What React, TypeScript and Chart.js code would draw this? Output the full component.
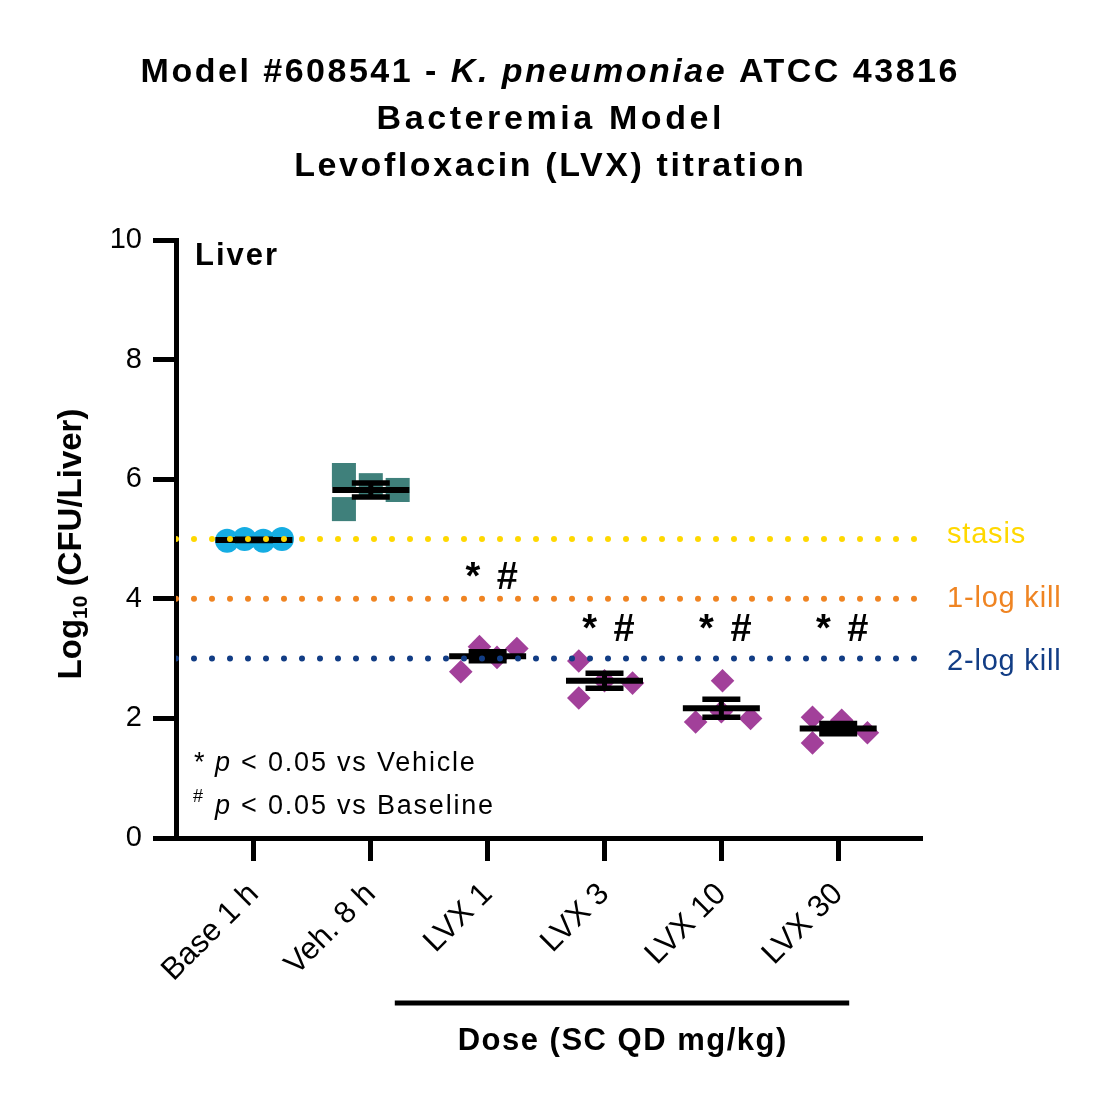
import React, { useEffect, useRef } from 'react';
import { Chart, registerables } from 'chart.js';

Chart.register(...registerables);

const FAMILY = '"Liberation Sans", Arial, Helvetica, sans-serif';

const categories = ['Base 1 h', 'Veh. 8 h', 'LVX 1', 'LVX 3', 'LVX 10', 'LVX 30'];
const yTicks = [0, 2, 4, 6, 8, 10];

const baseValues = [4.97, 5.0, 4.97, 5.0];
const baseOffsets = [-0.23, -0.08, 0.08, 0.24];
const vehValues = [6.07, 5.5, 5.9, 5.82];
const vehOffsets = [-0.23, -0.23, 0.0, 0.23];
const lvx1Values = [2.78, 3.2, 3.02, 3.17];
const lvx1Offsets = [-0.23, -0.07, 0.08, 0.25];
const lvx3Values = [2.96, 2.34, 2.63, 2.59];
const lvx3Offsets = [-0.22, -0.22, 0.0, 0.24];
const lvx10Values = [1.94, 2.63, 2.11, 2.0];
const lvx10Offsets = [-0.22, 0.01, 0.0, 0.25];
const lvx30Values = [2.02, 1.59, 1.97, 1.76];
const lvx30Offsets = [-0.22, -0.22, 0.03, 0.25];

const groupMeans = [4.985, 5.82, 3.04, 2.63, 2.17, 1.83];
const groupSems = [0.01, 0.117, 0.075, 0.125, 0.15, 0.085];

const thresholdValues = [5, 4, 3];
const thresholdLabels = ['stasis', '1-log kill', '2-log kill'];
const thresholdColors = ['#FFD800', '#EF8422', '#123D85'];

const sigGroups = [2, 3, 4, 5];
const sigLabelY = [4.16, 3.29, 3.29, 3.29];
const sigText = '* #';

const X_MIN = -0.667;
const X_MAX = 5.7;

type Run = { text: string; font: string; dy?: number };

function drawRuns(
  ctx: CanvasRenderingContext2D,
  runs: Run[],
  x: number,
  y: number,
  align: 'left' | 'center',
  spacing: number,
  color: string
) {
  ctx.save();
  ctx.fillStyle = color;
  ctx.textAlign = 'left';
  ctx.textBaseline = 'alphabetic';
  (ctx as any).letterSpacing = spacing + 'px';
  const widths = runs.map((r) => {
    ctx.font = r.font;
    return ctx.measureText(r.text).width;
  });
  const total = widths.reduce((a, b) => a + b, 0) - spacing;
  let cx = align === 'center' ? x - total / 2 : x;
  runs.forEach((r, i) => {
    ctx.font = r.font;
    ctx.fillText(r.text, cx, y + (r.dy || 0));
    cx += widths[i];
  });
  ctx.restore();
}

const labelBaselineShift = [4, 8, 11];

const textPlugin = {
  id: 'textPlugin',
  afterDraw(chart: any) {
    const { ctx, chartArea, scales } = chart;
    const xs = scales.x;
    const ys = scales.y;
    const B = (s: number) => `bold ${s}px ${FAMILY}`;
    const BI = (s: number) => `italic bold ${s}px ${FAMILY}`;
    const R = (s: number) => `${s}px ${FAMILY}`;
    const I = (s: number) => `italic ${s}px ${FAMILY}`;

    // Title
    drawRuns(
      ctx,
      [
        { text: 'Model #608541 - ', font: B(34) },
        { text: 'K. pneumoniae', font: BI(34) },
        { text: ' ATCC 43816', font: B(34) },
      ],
      549,
      82,
      'center',
      2.5,
      '#000'
    );
    drawRuns(ctx, [{ text: 'Bacteremia Model', font: B(34) }], 549, 129, 'center', 3.6, '#000');
    drawRuns(ctx, [{ text: 'Levofloxacin (LVX) titration', font: B(34) }], 549, 176, 'center', 2.6, '#000');

    // Panel label
    drawRuns(ctx, [{ text: 'Liver', font: B(31) }], chartArea.left + 19, 265, 'left', 2, '#000');

    // Footnotes
    drawRuns(ctx, [{ text: '*', font: R(27) }], 194, 771, 'left', 0, '#000');
    drawRuns(
      ctx,
      [
        { text: 'p', font: I(27) },
        { text: ' < 0.05 vs Vehicle', font: R(27) },
      ],
      215,
      771,
      'left',
      1.8,
      '#000'
    );
    drawRuns(ctx, [{ text: '#', font: R(18) }], 193, 802, 'left', 0, '#000');
    drawRuns(
      ctx,
      [
        { text: 'p', font: I(27) },
        { text: ' < 0.05 vs Baseline', font: R(27) },
      ],
      215,
      814,
      'left',
      1.8,
      '#000'
    );

    // Significance marks
    sigGroups.forEach((g, k) => {
      const px = xs.getPixelForValue(g) + 4;
      const py = ys.getPixelForValue(sigLabelY[k]);
      drawRuns(ctx, [{ text: sigText, font: B(38) }], px, py, 'center', 3, '#000');
    });

    // Threshold labels
    thresholdValues.forEach((v, k) => {
      drawRuns(
        ctx,
        [{ text: thresholdLabels[k], font: R(29) }],
        chartArea.right + 27,
        ys.getPixelForValue(v) + labelBaselineShift[k],
        'left',
        0.8,
        thresholdColors[k]
      );
    });

    // Y axis title (rotated)
    ctx.save();
    ctx.translate(81, (chartArea.top + chartArea.bottom) / 2 + 5);
    ctx.rotate(-Math.PI / 2);
    drawRuns(
      ctx,
      [
        { text: 'Log', font: B(33) },
        { text: '10', font: B(21), dy: 6 },
        { text: ' (CFU/Liver)', font: B(33) },
      ],
      0,
      0,
      'center',
      0,
      '#000'
    );
    ctx.restore();

    // Dose bracket
    const x1 = xs.getPixelForValue(1) + 24;
    const x2 = xs.getPixelForValue(5) + 11;
    ctx.save();
    ctx.strokeStyle = '#000';
    ctx.lineWidth = 5;
    ctx.beginPath();
    ctx.moveTo(x1, 1003);
    ctx.lineTo(x2, 1003);
    ctx.stroke();
    ctx.restore();
    drawRuns(ctx, [{ text: 'Dose (SC QD mg/kg)', font: B(31) }], (x1 + x2) / 2, 1050, 'center', 1.5, '#000');
  },
};

function pts(values: number[], offsets: number[], cat: number) {
  return values.map((v, i) => ({ x: cat + offsets[i], y: v }));
}

export default function App() {
  const ref = useRef<HTMLCanvasElement>(null);

  useEffect(() => {
    if (!ref.current) return;
    const canvas = ref.current;

    const refLineSets = thresholdValues.map((v, k) => ({
      type: 'line' as const,
      data: [
        { x: X_MIN, y: v },
        { x: X_MAX, y: v },
      ],
      showLine: true,
      borderColor: thresholdColors[k],
      borderWidth: 6,
      borderDash: [0, 18],
      borderCapStyle: 'round' as const,
      pointRadius: 0,
      order: 0,
    }));

    const whiskerData: any[] = [];
    groupMeans.forEach((m, i) => {
      whiskerData.push({ x: i, y: m - groupSems[i] });
      whiskerData.push({ x: i, y: m + groupSems[i] });
      whiskerData.push({ x: i, y: null });
    });
    const capData: any[] = [];
    groupMeans.forEach((m, i) => {
      capData.push({ x: i, y: m - groupSems[i] });
      capData.push({ x: i, y: m + groupSems[i] });
    });

    const chart = new Chart(canvas, {
      type: 'scatter',
      data: {
        datasets: [
          ...refLineSets,
          {
            data: groupMeans.map((m, i) => ({ x: i, y: m })),
            pointStyle: 'line',
            pointRadius: 38.5,
            pointBorderWidth: 6,
            pointBorderColor: '#000',
            pointBackgroundColor: '#000',
            showLine: false,
            order: 1,
          },
          {
            data: capData,
            pointStyle: 'line',
            pointRadius: 19,
            pointBorderWidth: 5.5,
            pointBorderColor: '#000',
            pointBackgroundColor: '#000',
            showLine: false,
            order: 1,
          },
          {
            type: 'line',
            data: whiskerData,
            showLine: true,
            spanGaps: false,
            borderColor: '#000',
            borderWidth: 5,
            pointRadius: 0,
            order: 1,
          },
          {
            data: pts(baseValues, baseOffsets, 0),
            pointStyle: 'circle',
            pointRadius: 12,
            pointBackgroundColor: '#15ADE3',
            pointBorderWidth: 0,
            order: 2,
          },
          {
            data: pts(vehValues, vehOffsets, 1),
            pointStyle: 'rect',
            pointRadius: 17,
            pointBackgroundColor: '#3F807B',
            pointBorderWidth: 0,
            order: 2,
          },
          ...[
            [lvx1Values, lvx1Offsets, 2],
            [lvx3Values, lvx3Offsets, 3],
            [lvx10Values, lvx10Offsets, 4],
            [lvx30Values, lvx30Offsets, 5],
          ].map(([vals, offs, cat]) => ({
            data: pts(vals as number[], offs as number[], cat as number),
            pointStyle: 'rectRot',
            pointRadius: 11.8,
            pointBackgroundColor: '#A2409A',
            pointBorderWidth: 0,
            order: 2,
          })),
        ] as any,
      },
      options: {
        responsive: false,
        animation: false,
        events: [],
        devicePixelRatio: 1,
        layout: { padding: { top: 240, right: 183, bottom: 0, left: 0 } },
        plugins: {
          legend: { display: false },
          tooltip: { enabled: false },
          title: { display: false },
        },
        scales: {
          x: {
            type: 'linear',
            min: X_MIN,
            max: X_MAX,
            afterBuildTicks: (axis: any) => {
              axis.ticks = categories.map((_, i) => ({ value: i }));
            },
            afterFit: (s: any) => {
              s.height = 265;
            },
            ticks: {
              autoSkip: false,
              minRotation: 45,
              maxRotation: 45,
              padding: 15,
              color: '#000',
              font: { family: FAMILY, size: 31 },
              callback: (v: any) => categories[Math.round(Number(v))] ?? '',
            },
            grid: {
              drawOnChartArea: false,
              drawTicks: true,
              tickLength: 23,
              tickWidth: 5,
              tickColor: '#000',
              color: '#000',
              lineWidth: 5,
            },
            border: { display: true, color: '#000', width: 5 },
          },
          y: {
            type: 'linear',
            min: 0,
            max: 10,
            afterBuildTicks: (axis: any) => {
              axis.ticks = yTicks.map((v) => ({ value: v }));
            },
            afterFit: (s: any) => {
              s.width = 176;
            },
            ticks: {
              padding: 11,
              color: '#000',
              font: { family: FAMILY, size: 29 },
              callback: (v: any) => String(v),
            },
            grid: {
              drawOnChartArea: false,
              drawTicks: true,
              tickLength: 23,
              tickWidth: 5,
              tickColor: '#000',
              color: '#000',
              lineWidth: 5,
            },
            border: { display: true, color: '#000', width: 5 },
          },
        },
      },
      plugins: [textPlugin],
    });

    return () => chart.destroy();
  }, []);

  return (
    <div style={{ position: 'fixed', left: 0, top: 0, width: 1103, height: 1103, background: '#fff' }}>
      <canvas ref={ref} width={1103} height={1103} style={{ width: 1103, height: 1103, display: 'block' }} />
    </div>
  );
}
